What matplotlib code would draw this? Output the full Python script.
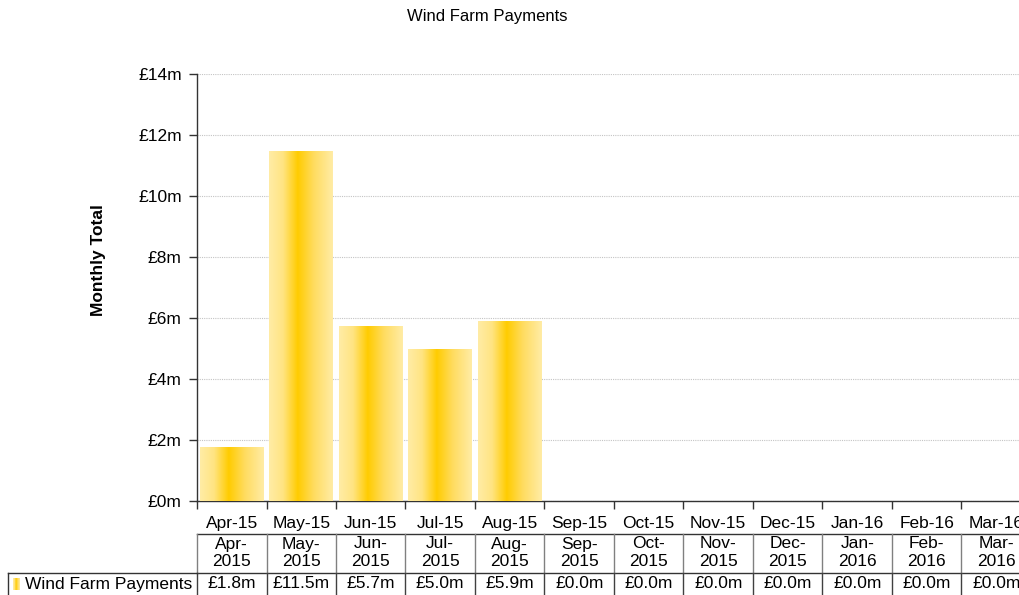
import matplotlib
matplotlib.use("Agg")
import matplotlib.pyplot as plt
import numpy as np
from matplotlib.colors import LinearSegmentedColormap
from matplotlib.transforms import blended_transform_factory
from matplotlib.lines import Line2D

plt.rcParams['font.family'] = ['Liberation Sans', 'DejaVu Sans']

months = ['Apr-15', 'May-15', 'Jun-15', 'Jul-15', 'Aug-15', 'Sep-15',
          'Oct-15', 'Nov-15', 'Dec-15', 'Jan-16', 'Feb-16', 'Mar-16']
table_headers = ['Apr-\n2015', 'May-\n2015', 'Jun-\n2015', 'Jul-\n2015', 'Aug-\n2015',
                 'Sep-\n2015', 'Oct-\n2015', 'Nov-\n2015', 'Dec-\n2015', 'Jan-\n2016',
                 'Feb-\n2016', 'Mar-\n2016']
payments = [1.77, 11.48, 5.74, 4.98, 5.90, 0, 0, 0, 0, 0, 0, 0]  # £ millions
series_name = 'Wind Farm Payments'
title = 'Wind Farm Payments'
ylabel = 'Monthly Total'
yticks = [0, 2, 4, 6, 8, 10, 12, 14]

W, H = 1020, 595
fig = plt.figure(figsize=(W / 100, H / 100), dpi=100)
ax_left, ax_right, ax_top, ax_bot = 197, 1031, 74, 501
ax = fig.add_axes([ax_left / W, 1 - ax_bot / H, (ax_right - ax_left) / W, (ax_bot - ax_top) / H])

cmap = LinearSegmentedColormap.from_list('grad', [
    (0.0, (1.0, 236 / 255, 166 / 255)),
    (0.22, (1.0, 228 / 255, 130 / 255)),
    (0.45, (1.0, 204 / 255, 0.0)),
    (0.70, (1.0, 220 / 255, 95 / 255)),
    (1.0, (1.0, 236 / 255, 166 / 255)),
])
grad = np.linspace(0, 1, 256).reshape(1, -1)

x = np.arange(len(months))
bars = ax.bar(x, payments, width=0.92, color='none', edgecolor='none', zorder=3)
for b in bars:
    if b.get_height() <= 0:
        continue
    x0, y0 = b.get_x(), b.get_y()
    im = ax.imshow(grad, cmap=cmap, aspect='auto', extent=(x0, x0 + b.get_width(), y0, y0 + b.get_height()),
                   zorder=3, interpolation='bilinear')
    im.set_clip_path(b)

ax.set_xlim(-0.5, len(months) - 0.5)
ax.set_ylim(0, 14)
ax.set_yticks(yticks)
ax.set_yticklabels([f'£{v}m' for v in yticks], fontsize=12.5)
ax.yaxis.grid(True, color='#c4c4c4', linestyle=(0, (1, 1)), linewidth=0.8, zorder=0)
ax.set_axisbelow(True)

ax.set_xticks(np.arange(len(months) + 1) - 0.5)
ax.set_xticklabels([])
ax.set_xticks(x, minor=True)
ax.set_xticklabels(months, minor=True, fontsize=12.5)
ax.tick_params(axis='x', which='minor', length=0, pad=11)
ax.tick_params(axis='x', which='major', length=6, width=1, color='#333333', direction='out')
ax.tick_params(axis='y', length=6, width=1, color='#333333', direction='out', pad=5)

for s in ['top', 'right']:
    ax.spines[s].set_visible(False)
for s in ['left', 'bottom']:
    ax.spines[s].set_color('#333333')
    ax.spines[s].set_linewidth(1)

fig.text(487 / W, 1 - 17 / H, title, ha='center', va='center', fontsize=12)
fig.text(98 / W, 1 - 260 / H, ylabel, ha='center', va='center', rotation=90,
         fontsize=12.5, fontweight='bold')

# data table
tr = blended_transform_factory(ax.transData, fig.transFigure)
def fy(py):
    return 1 - py / H

y_top, y_mid, y_bot = 534, 573, 600
ax.add_line(Line2D([-0.5, len(months) - 0.5], [fy(y_top)] * 2, transform=tr, color='#333333', lw=1, clip_on=False))
ax.add_line(Line2D([-0.5, len(months) - 0.5], [fy(y_mid)] * 2, transform=tr, color='#333333', lw=1, clip_on=False))
for i in range(len(months) + 1):
    xb = i - 0.5
    ax.add_line(Line2D([xb, xb], [fy(y_top), fy(y_mid)], transform=tr, color='#808080', lw=1, clip_on=False))
    ax.add_line(Line2D([xb, xb], [fy(y_mid), fy(y_bot)], transform=tr, color='#404040', lw=1, clip_on=False))
for i, (hdr, v) in enumerate(zip(table_headers, payments)):
    ax.text(i, fy(553), hdr, transform=tr, ha='center', va='center', fontsize=12.5,
            linespacing=1.25, clip_on=False)
    ax.text(i, fy(584), f'£{v:.1f}m', transform=tr, ha='center', va='center', fontsize=12.5, clip_on=False)

# row label cell
fig.add_artist(Line2D([8 / W, ax_left / W], [fy(y_mid)] * 2, transform=fig.transFigure, color='#333333', lw=1))
fig.add_artist(Line2D([8 / W, 8 / W], [fy(y_mid), fy(y_bot)], transform=fig.transFigure, color='#333333', lw=1))
fig.text(192 / W, fy(584), series_name, ha='right', va='center', fontsize=12.5)
kax = fig.add_axes([13 / W, fy(590), 7 / W, 12 / H])
kax.imshow(grad, cmap=cmap, aspect='auto', interpolation='bilinear')
kax.axis('off')

fig.savefig('out.png', dpi=100)
